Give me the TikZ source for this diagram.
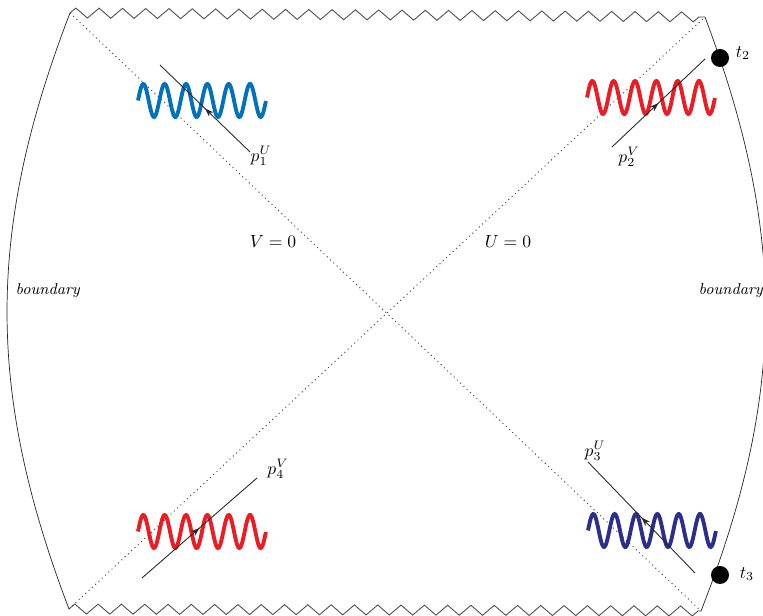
\documentclass[tikz,border=0pt]{standalone}
\usepackage{amsmath}
\usepackage{amssymb}
\usepackage{tikz}
\usetikzlibrary{arrows.meta,calc,decorations.pathmorphing,decorations.markings}
\definecolor{pblue}{RGB}{0,114,188}
\definecolor{pred}{RGB}{237,28,36}
\definecolor{pnavy}{RGB}{43,47,138}

\begin{document}
\begin{tikzpicture}[scale=1,
  edge/.style={decorate,decoration={zigzag,segment length=0.466cm,amplitude=0.1cm},black!70,line width=0.5pt},
  horizon/.style={dotted,line width=0.55pt,black!75},
  mom/.style={black!85,line width=0.5pt,decoration={markings,mark=at position 0.5 with {\arrow{Stealth[length=5pt,width=3.5pt]}}},postaction={decorate}},
  wave/.style={line width=2.2pt},
  insertion/.style={circle,fill=black,inner sep=0pt,minimum size=0.36cm}]
\useasboundingbox (0,0) rectangle (15.26,12.32);
\clip (0,0) rectangle (15.26,12.32);
\coordinate (TL) at (1.40,12.06);
\coordinate (TR) at (14.10,11.98);
\coordinate (BL) at (1.38,0.14);
\coordinate (BR) at (14.02,0.10);
% boundaries and singularities
\draw[black!85] (TL) to[bend right=21] (BL);
\draw[black!85] (TR) to[bend left=21] (BR);
\draw[edge] (TL)--(TR);
\draw[edge] (BL)--(BR);
\draw[horizon] (TL)--(BR);
\draw[horizon] (BL)--(TR);
\node (V0) at (5.46,7.50) {$V=0$};
\node (U0) at (10.16,7.50) {$U=0$};
\node (bl) at (0.96,6.50) {\small\textit{boundary}};
\node (br) at (14.62,6.50) {\small\textit{boundary}};
% waves
\foreach \x/\y/\c in {2.76/10.31/pblue,11.74/10.37/pred,2.76/1.69/pred,11.76/1.71/pnavy}
  \draw[wave,\c] plot[domain=0:2.56,samples=150,variable=\t] ({\x+\t},{\y+0.33*sin(\t/2.56*2160)});
% momenta
\coordinate (p1s) at (5.00,9.28);
\coordinate (p1e) at (3.20,11.02);
\coordinate (p2s) at (12.24,9.38);
\coordinate (p2e) at (14.10,11.14);
\coordinate (p3s) at (13.90,0.86);
\coordinate (p3e) at (11.76,3.08);
\coordinate (p4s) at (2.84,0.76);
\coordinate (p4e) at (5.14,2.76);
\draw[mom] (p1s)--(p1e);
\draw[mom] (p2s)--(p2e);
\draw[mom] (p3s)--(p3e);
\draw[mom] (p4s)--(p4e);
\node (p1) at (5.22,9.20) {$p_1^U$};
\node (p2) at (12.58,9.18) {$p_2^V$};
\node (p3) at (11.90,3.30) {$p_3^U$};
\node (p4) at (5.56,2.94) {$p_4^V$};
% insertions
\node[insertion] (t2dot) at (14.40,11.16) {};
\node[insertion] (t3dot) at (14.40,0.82) {};
\node (t2) at (14.86,11.26) {$t_2$};
\node (t3) at (14.94,0.84) {$t_3$};
\end{tikzpicture}
\end{document}
